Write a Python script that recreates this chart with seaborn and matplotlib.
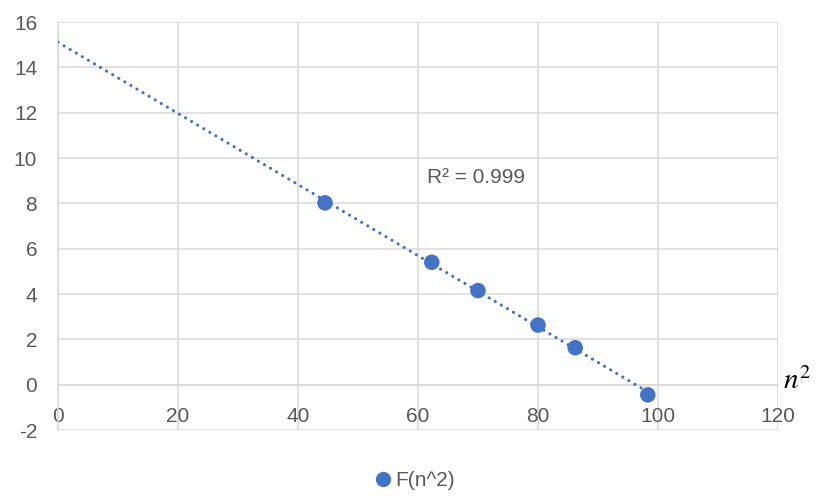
import numpy as np
import pandas as pd
import matplotlib
matplotlib.use("Agg")
import matplotlib.pyplot as plt
import seaborn as sns

# Data
n_squared = [44.5, 62.3, 70.0, 80.0, 86.2, 98.3]
f_values = [8.02, 5.40, 4.15, 2.63, 1.63, -0.45]
x_ticks = [0, 20, 40, 60, 80, 100, 120]
y_ticks = [-2, 0, 2, 4, 6, 8, 10, 12, 14, 16]
series_name = "F(n^2)"
r2_label = "R² = 0.999"

sns.set_theme(style="white")
plt.rcParams['font.family'] = ['Liberation Sans', 'DejaVu Sans']

blue = "#4472C4"
grid_c = "#D9D9D9"
text_c = "#595959"

df = pd.DataFrame({"x": n_squared, "y": f_values})

fig = plt.figure(figsize=(8.19, 4.97), dpi=100)
ax = fig.add_axes([58/819, 1-430/497, (778-58)/819, (430-22)/497])

# trendline (linear fit, forward/backward to x=0)
slope, intercept = np.polyfit(df["x"], df["y"], 1)
tx = np.array([0.0, max(n_squared)])
trend = pd.DataFrame({"x": tx, "y": slope * tx + intercept})
sns.lineplot(data=trend, x="x", y="y", ax=ax, color=blue, linewidth=2.3,
             dashes=False, zorder=3)
ln = ax.lines[-1]
ln.set_linestyle((0, (0.01, 2.2)))
ln.set_dash_capstyle("round")

sns.scatterplot(data=df, x="x", y="y", ax=ax, color=blue, s=125,
                edgecolor="none", zorder=4, label=series_name, legend=False)

ax.set_xlim(0, 120)
ax.set_ylim(-2, 16)
ax.set_xticks(x_ticks)
ax.set_yticks(y_ticks)
ax.set_xticklabels([str(v) for v in x_ticks])
ax.set_yticklabels([str(v) for v in y_ticks])
ax.grid(True, color=grid_c, linewidth=1.1)
ax.set_axisbelow(True)
ax.set_xlabel("")
ax.set_ylabel("")

for s in ["top", "right"]:
    ax.spines[s].set_visible(False)
ax.spines["bottom"].set_position(("data", 0))
ax.spines["bottom"].set_color(grid_c)
ax.spines["left"].set_color(grid_c)
ax.spines["bottom"].set_linewidth(1.1)
ax.spines["left"].set_linewidth(1.1)

ax.tick_params(axis="both", length=0, labelsize=15, labelcolor=text_c)
ax.tick_params(axis="y", pad=15)
ax.tick_params(axis="x", pad=16)

ax.text(69.7, 9.12, r2_label, ha="center", va="center", fontsize=15, color=text_c)

fig.text(797/819, 1-381/497, r"$n^2$", ha="center", va="center",
         fontsize=21, color="black", math_fontfamily="stix")

handles = [plt.Line2D([], [], marker="o", linestyle="none", color=blue,
                      markersize=11, markeredgewidth=0)]
fig.legend(handles, [series_name], loc="center", bbox_to_anchor=(414/819, 1-481/497),
           frameon=False, fontsize=15, labelcolor=text_c, handletextpad=0.1,
           handlelength=1.0)

fig.savefig("out.png", dpi=100)
